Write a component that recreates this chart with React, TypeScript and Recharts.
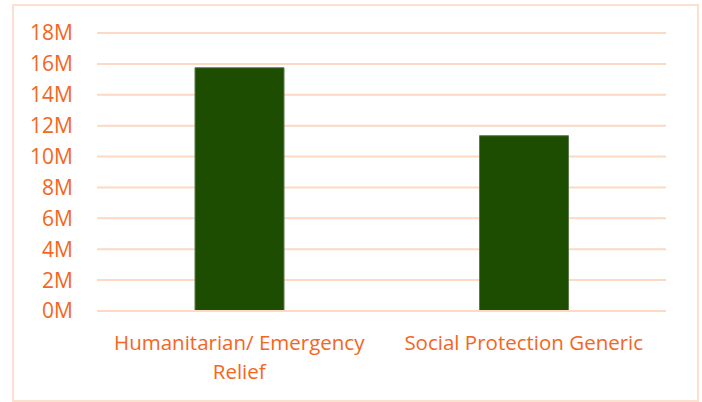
import React from 'react';
import { BarChart, Bar, XAxis, YAxis, CartesianGrid } from 'recharts';

const categories = ['Humanitarian/ Emergency Relief', 'Social Protection Generic'];
const amounts = [15.75, 11.35]; // millions
const yTicks = [0, 2, 4, 6, 8, 10, 12, 14, 16, 18];

const data = categories.map((name, i) => ({ name, value: amounts[i] }));

const ORANGE = '#F4661E';
const FONT = '"Open Sans", sans-serif';

function XTick(props: any) {
  const { x, y, payload } = props;
  const label: string = payload.value;
  // wrap long label into two lines like the original
  const words = label.split(' ');
  const lines: string[] = [];
  let cur = '';
  words.forEach((w) => {
    const next = cur ? cur + ' ' + w : w;
    if (next.length > 26 && cur) {
      lines.push(cur);
      cur = w;
    } else {
      cur = next;
    }
  });
  if (cur) lines.push(cur);
  return (
    <text x={x} y={y} textAnchor="middle" fill={ORANGE} fontSize={20.5} fontFamily={FONT}>
      {lines.map((l, i) => (
        <tspan key={i} x={x} dy={i === 0 ? 31 : 29}>
          {l}
        </tspan>
      ))}
    </text>
  );
}

export default function App() {
  return (
    <div style={{ position: 'absolute', left: 0, top: 0, width: 702, height: 402, background: '#fff' }}>
      <div
        style={{
          position: 'absolute',
          left: 12,
          top: 4,
          width: 683,
          height: 394,
          border: '2px solid #FDE1D0',
        }}
      />
      <BarChart
        width={702}
        height={402}
        data={data}
        margin={{ top: 33, right: 36, bottom: 0, left: 0 }}
        style={{ position: 'absolute', left: 0, top: 0 }}
      >
        <CartesianGrid vertical={false} stroke="#FDD9C4" strokeWidth={2} />
        <XAxis
          dataKey="name"
          axisLine={{ stroke: '#FDD9C4', strokeWidth: 2 }}
          tickLine={false}
          interval={0}
          tick={<XTick />}
          height={91}
        />
        <YAxis
          width={97}
          domain={[0, 18]}
          ticks={yTicks}
          interval={0}
          axisLine={false}
          tickLine={false}
          tickSize={0}
          tickMargin={24}
          tickFormatter={(v) => `${v}M`}
          tick={{ fill: ORANGE, fontSize: 21, fontFamily: FONT }}
        />
        <Bar dataKey="value" fill="#1D4D01" stroke="#5B7A4A" strokeWidth={1} barSize={89} isAnimationActive={false} />
      </BarChart>
    </div>
  );
}
